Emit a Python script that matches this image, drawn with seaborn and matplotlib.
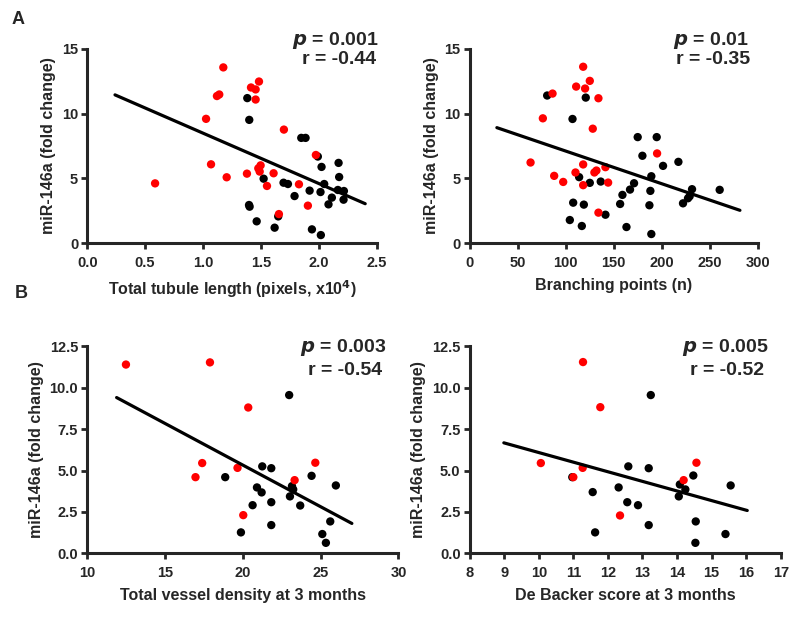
import numpy as np
import pandas as pd
import matplotlib
matplotlib.use("Agg")
import matplotlib.pyplot as plt
import seaborn as sns

# ---- panel A, left: tubule length ----
tub_red_x = [0.586, 1.175, 1.12, 1.14, 1.026, 1.069, 1.204, 1.414, 1.454, 1.483, 1.454, 1.379,
             1.477, 1.497, 1.489, 1.552, 1.609, 1.655, 1.698, 1.828, 1.905, 1.974]
tub_red_y = [4.61, 13.56, 11.35, 11.47, 9.59, 6.08, 5.08, 12.01, 11.86, 12.47, 11.08, 5.36,
             5.77, 6.00, 5.52, 4.41, 5.39, 2.24, 8.76, 4.54, 2.89, 6.80]
tub_blk_x = [1.382, 1.399, 1.397, 1.402, 1.463, 1.523, 1.618, 1.649, 1.695, 1.733, 1.790, 1.848,
             1.885, 1.920, 1.940, 1.991, 2.017, 2.023, 2.014, 2.046, 2.083, 2.112, 2.170, 2.175,
             2.164, 2.216, 2.213]
tub_blk_y = [11.19, 9.51, 2.94, 2.81, 1.68, 4.97, 1.19, 2.06, 4.66, 4.56, 3.63, 8.12,
             8.12, 4.05, 1.06, 6.68, 0.62, 5.88, 3.94, 4.56, 2.99, 3.51, 6.19, 5.10,
             4.10, 4.02, 3.35]
tub_fit_x = [0.24, 2.40]
tub_fit_y = [11.44, 3.04]

# ---- panel A, right: branching points ----
br_red_x = [63.5, 76.3, 86.4, 88.1, 97.5, 111.0, 110.3, 118.3, 118.3, 118.3, 120.3, 125.2,
            128.3, 130.0, 132.1, 134.2, 134.2, 141.5, 144.3, 195.3]
br_red_y = [6.22, 9.63, 11.54, 5.19, 4.72, 12.08, 5.45, 13.61, 6.07, 4.47, 11.93, 12.52,
            8.83, 5.45, 5.60, 11.18, 2.35, 5.86, 4.67, 6.92]
br_blk_x = [80.8, 107.2, 114.1, 107.9, 104.4, 119.0, 116.9, 121.0, 125.2, 136.6, 141.5, 156.8,
            159.2, 163.4, 167.1, 171.3, 175.1, 180.0, 187.3, 188.3, 189.3, 189.3, 194.9, 201.5,
            217.5, 222.3, 227.5, 229.2, 231.7, 260.5]
br_blk_y = [11.39, 9.58, 5.09, 3.12, 1.78, 2.97, 1.32, 11.23, 4.65, 4.75, 2.19, 3.02,
            3.72, 1.24, 4.13, 4.62, 8.18, 6.74, 2.92, 4.03, 5.16, 0.70, 8.18, 5.96,
            6.27, 3.07, 3.46, 3.61, 4.16, 4.11]
br_fit_x = [28.4, 281.6]
br_fit_y = [8.91, 2.53]

# ---- panel B, left: vessel density ----
vd_red_x = [12.49, 17.89, 20.35, 17.39, 16.96, 19.66, 20.03, 23.33, 24.66]
vd_red_y = [11.39, 11.52, 8.80, 5.45, 4.60, 5.16, 2.31, 4.42, 5.47]
vd_blk_x = [18.87, 19.88, 20.63, 20.91, 21.21, 21.25, 21.83, 21.83, 21.83, 22.98, 23.03, 23.16,
            23.24, 23.69, 24.42, 25.11, 25.34, 25.62, 25.98]
vd_blk_y = [4.60, 1.27, 2.91, 3.98, 3.68, 5.25, 5.14, 3.09, 1.71, 9.55, 3.44, 4.06,
            3.86, 2.89, 4.68, 1.17, 0.64, 1.93, 4.10]
vd_fit_x = [11.89, 27.01]
vd_fit_y = [9.40, 1.81]

# ---- panel B, right: De Backer score ----
db_red_x = [10.06, 11.00, 11.27, 11.28, 11.78, 12.35, 14.19, 14.56]
db_red_y = [5.45, 4.60, 5.16, 11.54, 8.82, 2.29, 4.42, 5.47]
db_blk_x = [10.97, 11.56, 11.63, 12.31, 12.56, 12.59, 12.87, 13.18, 13.18, 13.24, 14.05, 14.08,
            14.24, 14.47, 14.54, 14.53, 15.40, 15.55]
db_blk_y = [4.60, 3.70, 1.27, 3.98, 3.09, 5.25, 2.91, 5.14, 1.71, 9.55, 3.44, 4.16,
            3.86, 4.70, 1.93, 0.64, 1.17, 4.10]
db_fit_x = [8.99, 16.03]
db_fit_y = [6.67, 2.59]

sns.set_style("ticks")
plt.rcParams['font.family'] = ['Liberation Sans', 'DejaVu Sans']
plt.rcParams['font.weight'] = 'bold'
plt.rcParams['axes.labelweight'] = 'bold'

fig = plt.figure(figsize=(8, 6.17), dpi=100)

ticks15 = ([0, 5, 10, 15], ["0", "5", "10", "15"])
ticks125 = (np.arange(0, 12.6, 2.5), ["0.0", "2.5", "5.0", "7.5", "10.0", "12.5"])

panels = [
    # rect, data, xlim, xticks, xticklabels, ylim, yticks, xlabel, p, r, text positions (axes frac)
    ([0.109, 0.606, 0.362, 0.315], (tub_red_x, tub_red_y, tub_blk_x, tub_blk_y, tub_fit_x, tub_fit_y),
     (0, 2.5), np.arange(0, 2.51, 0.5), ["0.0", "0.5", "1.0", "1.5", "2.0", "2.5"],
     (0, 15), ticks15, "Total tubule length (pixels, x10$\\mathbf{^4}$)", "0.001", "-0.44",
     (1.007, 1.041, 0.998, 0.943)),
    ([0.587, 0.606, 0.360, 0.315], (br_red_x, br_red_y, br_blk_x, br_blk_y, br_fit_x, br_fit_y),
     (0, 300), np.arange(0, 301, 50), [str(v) for v in range(0, 301, 50)],
     (0, 15), ticks15, "Branching points (n)", "0.01", "-0.35",
     (0.969, 1.041, 0.973, 0.943)),
    ([0.109, 0.103, 0.389, 0.336], (vd_red_x, vd_red_y, vd_blk_x, vd_blk_y, vd_fit_x, vd_fit_y),
     (10, 30), np.arange(10, 31, 5), [str(v) for v in range(10, 31, 5)],
     (0, 12.5), ticks125, "Total vessel density at 3 months", "0.003", "-0.54",
     (0.963, 0.995, 0.947, 0.884)),
    ([0.587, 0.103, 0.389, 0.336], (db_red_x, db_red_y, db_blk_x, db_blk_y, db_fit_x, db_fit_y),
     (8, 17), np.arange(8, 18, 1), [str(v) for v in range(8, 18)],
     (0, 12.5), ticks125, "De Backer score at 3 months", "0.005", "-0.52",
     (0.961, 0.995, 0.945, 0.884)),
]

for rect, dat, xlim, xt, xtl, ylim, yticks, xlabel, pval, rval, tpos in panels:
    ax = fig.add_axes(rect)
    rx, ry, bx, by, fx, fy = dat
    df = pd.DataFrame({"x": list(bx) + list(rx), "y": list(by) + list(ry),
                       "grp": ["blk"] * len(bx) + ["red"] * len(rx)})
    sns.scatterplot(data=df, x="x", y="y", hue="grp", palette={"blk": "black", "red": "#ff0000"},
                    s=36, linewidth=0, legend=False, ax=ax, clip_on=False, zorder=3)
    sns.lineplot(x=fx, y=fy, color="black", linewidth=2.3, ax=ax, zorder=4)
    ax.set_xlim(*xlim)
    ax.set_ylim(*ylim)
    ax.set_xticks(xt)
    ax.set_xticklabels(xtl)
    ax.set_yticks(yticks[0])
    ax.set_yticklabels(yticks[1])
    ax.set_xlabel(xlabel, fontsize=11.5, fontweight="bold", labelpad=6)
    ax.set_ylabel("miR-146a (fold change)", fontsize=11.5, fontweight="bold", labelpad=4)
    ax.tick_params(width=2, length=4.5, labelsize=10.5, pad=4.5)
    ax.tick_params(axis="y", pad=2)
    for lbl in ax.get_xticklabels() + ax.get_yticklabels():
        lbl.set_fontweight("bold")
    sns.despine(ax=ax)
    for sp in ["left", "bottom"]:
        ax.spines[sp].set_linewidth(2.2)
    ax.text(tpos[0], tpos[1], "$\\boldsymbol{p}$ = " + pval, transform=ax.transAxes,
            ha="right", va="center", fontsize=14, fontweight="bold")
    ax.text(tpos[2], tpos[3], "r = " + rval, transform=ax.transAxes,
            ha="right", va="center", fontsize=14, fontweight="bold")

fig.text(0.015, 0.969, "A", fontsize=13, fontweight="bold", ha="left", va="center")
fig.text(0.019, 0.525, "B", fontsize=13, fontweight="bold", ha="left", va="center")

fig.savefig("out.png", dpi=100)
